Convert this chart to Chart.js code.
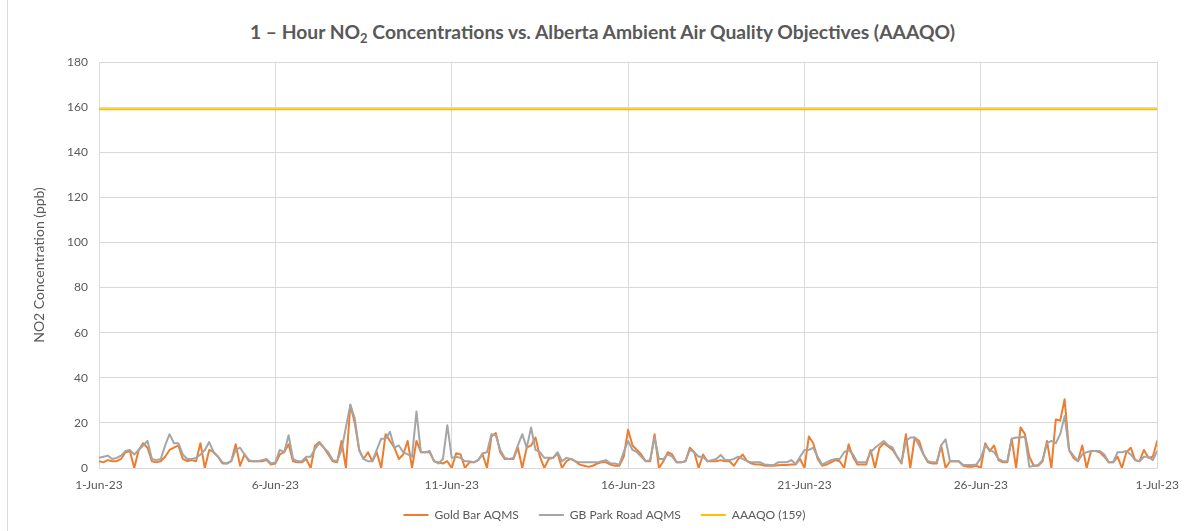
<!DOCTYPE html>
<html>
<head>
<meta charset="utf-8">
<title>1-Hour NO2 vs AAAQO</title>
<script src="https://cdn.jsdelivr.net/npm/chart.js@4.4.1/dist/chart.umd.min.js"></script>
<style>
  html, body { margin: 0; padding: 0; background: #fff; }
  #wrap { position: relative; width: 1189px; height: 531px; overflow: hidden; }
  #frame { position: absolute; left: 7px; top: -2px; width: 1200px; height: 540px; border-left: 1px solid #d9d9d9; }
  #title {
    position: absolute; left: 8px; top: 20px; width: 1189px; text-align: center;
    font-family: Lato, "Open Sans", sans-serif; font-weight: 700; font-size: 19.3px; color: #595959;
    line-height: 24px;
  }
  #title sub { font-size: 13px; vertical-align: -4px; line-height: 0; }
  canvas { position: absolute; left: 0; top: 0; }
</style>
</head>
<body>
<div id="wrap">
  <div id="frame"></div>
  <div id="title">1 – Hour NO<sub>2</sub> Concentrations vs. Alberta Ambient Air Quality Objectives (AAAQO)</div>
  <canvas id="c" width="1189" height="531"></canvas>
</div>
<script>
(function () {
  "use strict";

  // hours between samples (the readings below are taken every 3 h off the picture)
  var STEP_H = 3;

  var tickHours = [0, 120, 240, 360, 480, 600, 720];
  var tickLabels = ["1-Jun-23", "6-Jun-23", "11-Jun-23", "16-Jun-23", "21-Jun-23", "26-Jun-23", "1-Jul-23"];

  var seriesNames = ["Gold Bar AQMS", "GB Park Road AQMS", "AAAQO (159)"];
  var objectiveValue = 159;

  // Gold Bar AQMS, ppb, 8 readings per day (00,03,...,21 h) + 1-Jul 00h
  var goldBar = [
    3, 2.5, 3.5, 3, 3, 4, 7, 7.5,
    0, 8, 11, 9, 3, 2.5, 3, 5,
    8, 9, 10, 4, 3, 3.5, 3, 11,
    0, 8, 7, 5, 2, 2, 3, 10.5,
    1, 6, 3, 3, 3, 3, 3.5, 1.5,
    2, 6, 7, 10.5, 3, 2.5, 2.5, 4,
    0, 10, 11.5, 9, 6, 3, 2.5, 12,
    0, 28, 20, 8, 4, 7, 3, 7,
    0, 15, 12, 9, 4, 6, 12, 0,
    12, 7, 7, 7, 3, 2.5, 2, 3,
    0, 6.5, 6, 0, 2.5, 2.5, 3.5, 6,
    0, 14, 15.5, 7, 4, 4, 4, 9,
    0, 9, 10, 13.5, 5, 0, 4, 4.5,
    6.5, 0, 3, 4, 3, 1.5, 1, 0.5,
    1, 2, 2.5, 2.5, 1.5, 1, 1, 5,
    17, 10, 8, 6, 3, 3, 15, 0,
    3, 7, 6, 2.5, 2.5, 3, 9, 7,
    0, 6, 3, 3, 3, 3.5, 3, 3,
    1, 4, 6, 3, 2, 1.5, 1.5, 1,
    1, 1, 1.2, 1.3, 1.3, 1.5, 1.5, 4,
    0, 14, 11, 4, 1, 1.5, 2.5, 3.5,
    3, 0, 10.5, 5, 1.5, 1.5, 1.5, 8,
    0, 9, 11, 9.5, 8, 5, 2, 15,
    0, 13.5, 12, 6, 2.5, 2, 2, 10,
    0, 3, 3, 3, 1, 0.5, 0.5, 1,
    0, 11, 7.5, 10, 3.5, 2.5, 2.5, 13,
    0, 18, 15, 5, 1, 1, 3, 12,
    0, 21.5, 21, 30.5, 8, 4.5, 3, 10,
    0, 7.5, 7.5, 7, 5, 2.5, 2.5, 5,
    0, 7, 9, 3.5, 3, 8, 4.5, 5,
    12
  ];

  // GB Park Road AQMS, ppb, same sampling
  var gbParkRoad = [
    4.5, 5, 5.5, 4, 4.5, 5.5, 7.5, 8,
    6, 8, 10, 12, 4, 3.5, 4, 10,
    15, 11, 11, 6, 4, 4, 4.5, 6,
    8, 11.5, 7, 5, 2.5, 2, 3, 8,
    9, 6, 3.5, 3, 3, 3.5, 4, 2,
    2.5, 8, 7, 14.5, 4, 3, 3, 5,
    5, 8.5, 11, 9, 7, 3.5, 3, 8,
    18, 28, 22, 8, 4, 3, 3, 8,
    13, 13, 16, 9, 10, 7, 6, 5,
    25, 7, 7, 7.5, 3, 2, 4, 19,
    4.5, 5, 4.5, 3, 3, 2.5, 3.5, 6.5,
    7, 15, 14.5, 8, 4.5, 4, 4.5, 10,
    15, 9, 18, 8, 7, 4.5, 4.5, 4.5,
    7, 3, 4.5, 4, 3, 2.5, 2.5, 2.5,
    2.5, 2.5, 3, 3.5, 2, 2, 1.5, 7,
    12, 8, 7, 5, 3, 3.5, 13.5, 4,
    4, 6, 5, 2.5, 2.5, 3, 8, 7,
    5, 5, 3, 3.5, 4, 5.8, 3.5, 3.5,
    4, 5, 4, 3, 2.5, 2.5, 2.5, 1.5,
    1.3, 1.3, 2.5, 2.5, 2.5, 3.5, 1.8, 5,
    8, 8, 9, 5, 1.5, 2.5, 3.5, 4,
    4, 7, 8, 6, 2.5, 2.5, 2.5, 7,
    9, 10.5, 12, 10, 9, 5, 2.5, 12,
    13.5, 13.5, 10, 6, 3, 2.5, 2.5, 10,
    12.7, 3, 3, 3, 1.3, 1.3, 1.3, 1.5,
    4.5, 10, 8, 7, 4, 3, 3, 13,
    13.5, 13.5, 14, 0.5, 1, 1.3, 3.5, 11,
    12, 11, 15, 23, 8, 5.5, 3, 6,
    7, 7.5, 7.5, 7.5, 6, 2.5, 2.5, 7,
    7, 7.5, 6, 3.5, 3, 5, 5, 3.5,
    7.5
  ];

  var yTicks = [0, 20, 40, 60, 80, 100, 120, 140, 160, 180];

  var TEXT = "#595959";
  var GRID = "#d9d9d9";
  var FONT = "Lato, 'Open Sans', sans-serif";

  function toPoints(vals) {
    return vals.map(function (v, i) {
      return { x: i * STEP_H, y: v };
    });
  }

  function buildChart() {
    var ctx = document.getElementById("c").getContext("2d");
    var last = tickHours[tickHours.length - 1];

    return new Chart(ctx, {
      type: "line",
      data: {
        datasets: [
          {
            label: seriesNames[0],
            data: toPoints(goldBar),
            borderColor: "#ED7D31",
            backgroundColor: "#ED7D31",
            borderWidth: 2,
            order: 2,
          },
          {
            label: seriesNames[1],
            data: toPoints(gbParkRoad),
            borderColor: "#A5A5A5",
            backgroundColor: "#A5A5A5",
            borderWidth: 2,
            order: 1,
          },
          {
            label: seriesNames[2],
            data: [
              { x: tickHours[0], y: objectiveValue },
              { x: last, y: objectiveValue },
            ],
            borderColor: "#FFC000",
            backgroundColor: "#FFC000",
            borderWidth: 2,
            order: 0,
          },
        ],
      },
      options: {
        responsive: false,
        animation: false,
        // left padding pushes the legend's centre to where it sits in the original
        layout: { padding: { top: 62, right: 30, left: 50, bottom: 0 } },
        elements: {
          point: { radius: 0, hoverRadius: 0 },
          line: { tension: 0, borderJoinStyle: "round", borderCapStyle: "round" },
        },
        scales: {
          x: {
            type: "linear",
            min: tickHours[0],
            max: last,
            afterBuildTicks: function (scale) {
              scale.ticks = tickHours.map(function (h) {
                return { value: h };
              });
            },
            afterFit: function (scale) {
              scale.height = 21;
            },
            grid: { color: GRID, lineWidth: 1, drawTicks: false },
            border: { color: GRID },
            ticks: {
              color: TEXT,
              font: { family: FONT, size: 12 },
              padding: 10,
              maxRotation: 0,
              autoSkip: false,
              callback: function (val) {
                var i = tickHours.indexOf(val);
                return i >= 0 ? tickLabels[i] : "";
              },
            },
          },
          y: {
            min: yTicks[0],
            max: yTicks[yTicks.length - 1],
            afterBuildTicks: function (scale) {
              scale.ticks = yTicks.map(function (v) {
                return { value: v };
              });
            },
            afterFit: function (scale) {
              scale.width = 49;
            },
            grid: { color: GRID, lineWidth: 1, drawTicks: false },
            border: { display: false },
            title: {
              display: true,
              text: "NO2 Concentration (ppb)",
              color: TEXT,
              font: { family: FONT, size: 14 },
              padding: { top: -19, bottom: 0 },
            },
            ticks: {
              color: TEXT,
              font: { family: FONT, size: 12 },
              padding: 11,
            },
          },
        },
        plugins: {
          legend: {
            position: "bottom",
            labels: {
              usePointStyle: true,
              pointStyle: "line",
              pointStyleWidth: 25,
              boxHeight: 11,
              color: TEXT,
              font: { family: FONT, size: 12 },
              padding: 20,
              sort: function (a, b) {
                return a.datasetIndex - b.datasetIndex;
              },
            },
          },
          tooltip: { enabled: false },
          title: { display: false },
        },
      },
    });
  }

  buildChart();
})();
</script>
</body>
</html>
